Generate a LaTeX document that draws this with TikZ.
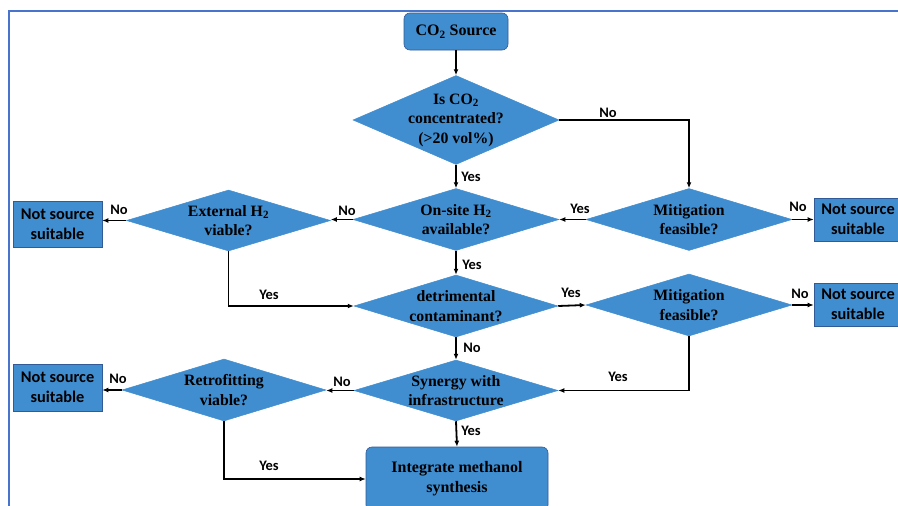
\documentclass[tikz,border=0pt]{standalone}
\usepackage{fontspec}
\setmainfont{Liberation Serif}
\newfontfamily\calfont{Carlito}
\usetikzlibrary{shapes.geometric,arrows.meta}
\definecolor{boxfill}{RGB}{64,141,207}
\definecolor{boxline}{RGB}{50,90,150}
\definecolor{framecol}{RGB}{72,116,206}
\tikzset{
  dia/.style={diamond, fill=boxfill, draw=boxfill, line width=0.5pt, inner sep=0pt},
  dtext/.style={align=center, font=\fontsize{15.8}{19.5}\selectfont\bfseries, inner sep=0pt},
  rbox/.style={rectangle, rounded corners=6pt, fill=boxfill, draw=boxline, line width=0.6pt, inner sep=0pt, align=center, font=\fontsize{16}{20}\selectfont\bfseries},
  nbox/.style={rectangle, fill=boxfill, draw=boxline, line width=0.6pt, inner sep=0pt, align=center, font=\calfont\fontsize{16.3}{20}\selectfont\bfseries},
  conn/.style={line width=1.8pt, -{Latex[length=6pt,width=5pt]}},
  lbl/.style={font=\calfont\fontsize{14.5}{16}\selectfont\bfseries, inner sep=0pt},
  frame/.style={line width=2.5pt, draw=framecol}
}
\begin{document}
\begin{tikzpicture}[x=1pt,y=-1pt]
\useasboundingbox (0,0) rectangle (898,506);
\clip (0,0) rectangle (898,506);
\draw[frame] (9,510) -- (9,11) -- (900,11);

% nodes
\node[rbox, minimum width=104pt, minimum height=37pt] (src) at (456,31.5) {CO\textsubscript{2} Source};
\node[dia, minimum width=206pt, minimum height=89pt] (d1) at (456,120) {};
\node[dtext] (d1t) at (456,120) {Is CO\textsubscript{2}\\concentrated?\\(>20 vol\%)};
\node[dia, minimum width=206pt, minimum height=62pt] (d2) at (456,219.5) {};
\node[dtext] (d2t) at (456,219.5) {On-site H\textsubscript{2}\\available?};
\node[dia, minimum width=206pt, minimum height=62pt] (mit1) at (689,219.5) {};
\node[dtext] (mit1t) at (689,219.5) {Mitigation\\feasible?};
\node[nbox, minimum width=88pt, minimum height=43pt] (nr1) at (858,219.5) {Not source\\suitable};
\node[dia, minimum width=204pt, minimum height=61pt] (ext) at (228.5,220.5) {};
\node[dtext] (extt) at (228.5,220.5) {External H\textsubscript{2}\\viable?};
\node[nbox, minimum width=89pt, minimum height=46pt] (nl1) at (57.5,224) {Not source\\suitable};
\node[dia, minimum width=204pt, minimum height=62pt] (det) at (456,306) {};
\node[dtext] (dett) at (456,306) {detrimental\\contaminant?};
\node[dia, minimum width=206pt, minimum height=62pt] (mit2) at (689,305) {};
\node[dtext] (mit2t) at (689,305) {Mitigation\\feasible?};
\node[nbox, minimum width=88pt, minimum height=43pt] (nr2) at (858,304.5) {Not source\\suitable};
\node[dia, minimum width=204pt, minimum height=61pt] (syn) at (456,390.5) {};
\node[dtext] (synt) at (456,390.5) {Synergy with\\infrastructure};
\node[dia, minimum width=204pt, minimum height=62pt] (retro) at (224,390) {};
\node[dtext] (retrot) at (224,390) {Retrofitting\\viable?};
\node[nbox, minimum width=89pt, minimum height=47pt] (nl3) at (57.5,387.5) {Not source\\suitable};
\node[rbox, minimum width=182pt, minimum height=64pt] (integ) at (457,479) {Integrate methanol\\synthesis};

% connectors
\draw[conn] (src) -- (d1.north);
\draw[conn] (d1.east) -| (mit1.north);
\draw[conn] (d1.south) -- (d2.north);
\draw[conn] (mit1.west) -- (d2.east);
\draw[conn] (mit1.east) -- (nr1.west);
\draw[conn] (d2.west) -- (ext.east |- d2.west);
\draw[conn] (ext.west) -- (ext.west -| nl1.east);
\draw[conn] (ext.south) |- (det.west);
\draw[conn] (d2.south) -- (det.north);
\draw[conn] (det.east) -- (mit2.west);
\draw[conn] (mit2.east) -- (mit2.east -| nr2.west);
\draw[conn] (mit2.south) |- (syn.east);
\draw[conn] (det.south) -- (syn.north);
\draw[conn] (syn.west) -- (syn.west -| retro.east);
\draw[conn] (retro.west) -- (retro.west -| nl3.east);
\draw[conn] (retro.south) |- (integ.west);
\draw[conn] (syn.south) -- (integ.north);

% labels
\node[lbl] (l1) at (608,113) {No};
\node[lbl] (l2) at (471,177) {Yes};
\node[lbl] (l3) at (580,209) {Yes};
\node[lbl] (l4) at (798,207) {No};
\node[lbl] (l5) at (347,211) {No};
\node[lbl] (l6) at (119,210) {No};
\node[lbl] (l7) at (269,295) {Yes};
\node[lbl] (l8) at (472,265) {Yes};
\node[lbl] (l9) at (571,293) {Yes};
\node[lbl] (l10) at (800,294) {No};
\node[lbl] (l11) at (472,348) {No};
\node[lbl] (l12) at (618,377) {Yes};
\node[lbl] (l13) at (342,382) {No};
\node[lbl] (l14) at (118,379) {No};
\node[lbl] (l15) at (471,431) {Yes};
\node[lbl] (l16) at (269,466) {Yes};
\end{tikzpicture}
\end{document}
